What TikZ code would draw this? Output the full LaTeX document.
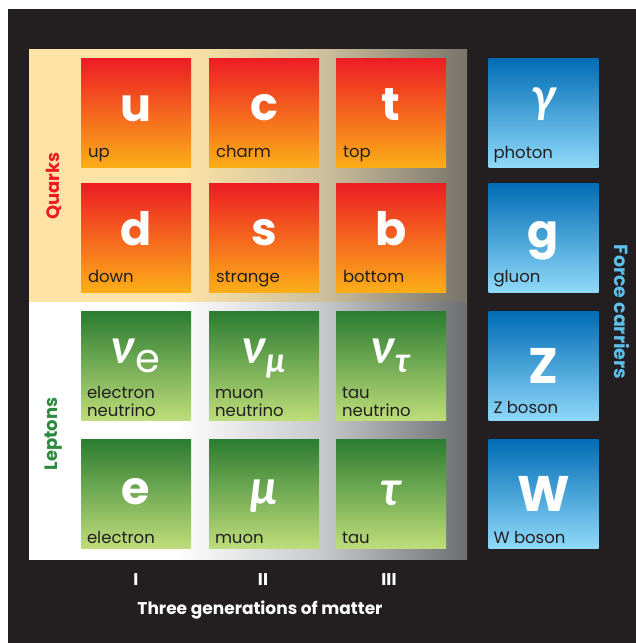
\documentclass[tikz,border=0pt]{standalone}
\usepackage{fontspec}
\setmainfont{Poppins}
\newfontfamily\greekfont{Lato}
\usetikzlibrary{positioning}

\definecolor{bgblack}{HTML}{231F20}
\definecolor{labeltext}{HTML}{231F20}
\definecolor{cream}{HTML}{FDE4A6}
\definecolor{qgmid}{HTML}{CDBF9C}
\definecolor{qgright}{HTML}{77746A}
\definecolor{lgmid}{HTML}{C8C9CB}
\definecolor{lgright}{HTML}{6D6E71}
\definecolor{qtop}{HTML}{ED1C24}
\definecolor{qmid}{HTML}{F26B22}
\definecolor{qbot}{HTML}{FCAE18}
\definecolor{ltop}{HTML}{2B7C31}
\definecolor{lmid}{HTML}{66A34A}
\definecolor{lbot}{HTML}{BEDD7A}
\definecolor{btop}{HTML}{006CB5}
\definecolor{bmid}{HTML}{3A9AD9}
\definecolor{bbot}{HTML}{8FD9F9}
\definecolor{quarkred}{HTML}{ED1C24}
\definecolor{leptongreen}{HTML}{2B8A3E}
\definecolor{forceblue}{HTML}{5BC0EB}

\pgfdeclarehorizontalshading{quarkpanel}{100bp}{color(0bp)=(cream); color(42bp)=(cream); color(58.5bp)=(qgmid); color(75bp)=(qgright); color(100bp)=(qgright)}
\pgfdeclarehorizontalshading{leptonpanel}{100bp}{color(0bp)=(white); color(41.5bp)=(white); color(58.3bp)=(lgmid); color(75bp)=(lgright); color(100bp)=(lgright)}

\begin{document}
\begin{tikzpicture}[x=1pt,y=-1pt]

		\tikzset{tile/.style = {minimum width=110pt,minimum height=109pt,inner sep=0pt}}
		\tikzset{quark/.style = {tile,top color=qtop,middle color=qmid,bottom color=qbot}}
		\tikzset{lepton/.style = {tile,top color=ltop,middle color=lmid,bottom color=lbot}}
		\tikzset{boson/.style = {tile,top color=btop,middle color=bmid,bottom color=bbot}}
		\tikzset{sym/.style = {anchor=base,text=white,inner sep=0pt,font=\fontsize{46}{46}\selectfont\bfseries}}
		\tikzset{capsym/.style = {sym,font=\fontsize{50}{50}\selectfont\bfseries}}
		\tikzset{greek/.style = {sym,font=\fontsize{48}{48}\selectfont\greekfont\bfseries\itshape}}
		\tikzset{pname/.style = {anchor=base west,text=labeltext,inner sep=0pt,align=left,font=\fontsize{16.5}{17.5}\selectfont}}
		\tikzset{sidelabel/.style = {inner sep=0pt,font=\fontsize{18}{18}\selectfont\bfseries}}
		\tikzset{gen/.style = {anchor=base,text=white,inner sep=0pt,font=\fontsize{17}{17}\selectfont\bfseries}}

		\useasboundingbox (0,0) rectangle (636,643);
		\fill[bgblack] (8,9) rectangle (636,643);
		\shade[shading=quarkpanel] (29,49) rectangle (467,302);
		\shade[shading=leptonpanel] (29,302) rectangle (467,559);

		\node[quark] (u) at (136,112.5) {};
		\node[quark] (c) at (264,112.5) {};
		\node[quark] (t) at (391,112.5) {};
		\node[boson] (photon) at (543.5,112.5) {};

		\node[quark] (d) at (136,237.5) {};
		\node[quark] (s) at (264,237.5) {};
		\node[quark] (b) at (391,237.5) {};
		\node[boson] (gluon) at (543.5,237.5) {};

		\node[lepton] (nue) at (136,366) {};
		\node[lepton] (numu) at (264,366) {};
		\node[lepton] (nutau) at (391,366) {};
		\node[boson] (Z) at (543.5,366) {};

		\node[lepton] (e) at (136,493.5) {};
		\node[lepton] (mu) at (264,493.5) {};
		\node[lepton] (tau) at (391,493.5) {};
		\node[boson] (W) at (543.5,493.5) {};

		\node[sym] (u-sym) at ([yshift=-64pt]u.north) {u};
		\node[sym] (c-sym) at ([yshift=-63pt]c.north) {c};
		\node[sym] (t-sym) at ([yshift=-63pt]t.north) {t};
		\node[greek] (photon-sym) at ([yshift=-55pt]photon.north) {γ};
		\node[sym] (d-sym) at ([yshift=-63pt]d.north) {d};
		\node[sym] (s-sym) at ([yshift=-63pt]s.north) {s};
		\node[sym] (b-sym) at ([yshift=-63pt]b.north) {b};
		\node[sym] (gluon-sym) at ([yshift=-65pt]gluon.north) {g};
		\node[greek] (nue-sym) at ([yshift=-52pt]nue.north) {ν\raisebox{-9pt}{\fontsize{40}{40}\selectfont\normalfont e}};
		\node[greek] (numu-sym) at ([yshift=-52pt]numu.north) {ν\raisebox{-9pt}{\fontsize{34}{34}\selectfont μ}};
		\node[greek] (nutau-sym) at ([yshift=-52pt]nutau.north) {ν\raisebox{-9pt}{\fontsize{34}{34}\selectfont τ}};
		\node[capsym] (Z-sym) at ([yshift=-72pt]Z.north) {Z};
		\node[sym] (e-sym) at ([yshift=-66pt]e.north) {e};
		\node[greek] (mu-sym) at ([yshift=-66pt]mu.north) {μ};
		\node[greek] (tau-sym) at ([yshift=-67pt]tau.north) {τ};
		\node[capsym] (W-sym) at ([yshift=-73pt]W.north) {W};

		\node[pname] (u-name) at ([xshift=7pt,yshift=10pt]u.south west) {up};
		\node[pname] (c-name) at ([xshift=7pt,yshift=10pt]c.south west) {charm};
		\node[pname] (t-name) at ([xshift=7pt,yshift=10pt]t.south west) {top};
		\node[pname] (photon-name) at ([xshift=5pt,yshift=9pt]photon.south west) {photon};
		\node[pname] (d-name) at ([xshift=7pt,yshift=10pt]d.south west) {down};
		\node[pname] (s-name) at ([xshift=7pt,yshift=10pt]s.south west) {strange};
		\node[pname] (b-name) at ([xshift=7pt,yshift=10pt]b.south west) {bottom};
		\node[pname] (gluon-name) at ([xshift=5pt,yshift=10pt]gluon.south west) {gluon};
		\node[pname] (nue-name) at ([xshift=6pt,yshift=4.5pt]nue.south west) {electron\\neutrino};
		\node[pname] (numu-name) at ([xshift=6pt,yshift=4.5pt]numu.south west) {muon\\neutrino};
		\node[pname] (nutau-name) at ([xshift=6pt,yshift=4.5pt]nutau.south west) {tau\\neutrino};
		\node[pname] (Z-name) at ([xshift=5pt,yshift=7pt]Z.south west) {Z boson};
		\node[pname] (e-name) at ([xshift=6pt,yshift=5pt]e.south west) {electron};
		\node[pname] (mu-name) at ([xshift=6pt,yshift=5pt]mu.south west) {muon};
		\node[pname] (tau-name) at ([xshift=6pt,yshift=5pt]tau.south west) {tau};
		\node[pname] (W-name) at ([xshift=5pt,yshift=5pt]W.south west) {W boson};

		\node[sidelabel,text=quarkred,rotate=90] (quarks) at (54,186) {Quarks};
		\node[sidelabel,text=leptongreen,rotate=90] (leptons) at (54,434) {Leptons};
		\node[sidelabel,text=forceblue,rotate=-90,font=\fontsize{19}{19}\selectfont\bfseries] (force) at (622,312) {Force carriers};

		\node[gen] (gen1) at (136,585) {I};
		\node[gen] (gen2) at (263,585) {II};
		\node[gen] (gen3) at (389,585) {III};
		\node[gen] (generations) at (260,614) {Three generations of matter};

\end{tikzpicture}
\end{document}
